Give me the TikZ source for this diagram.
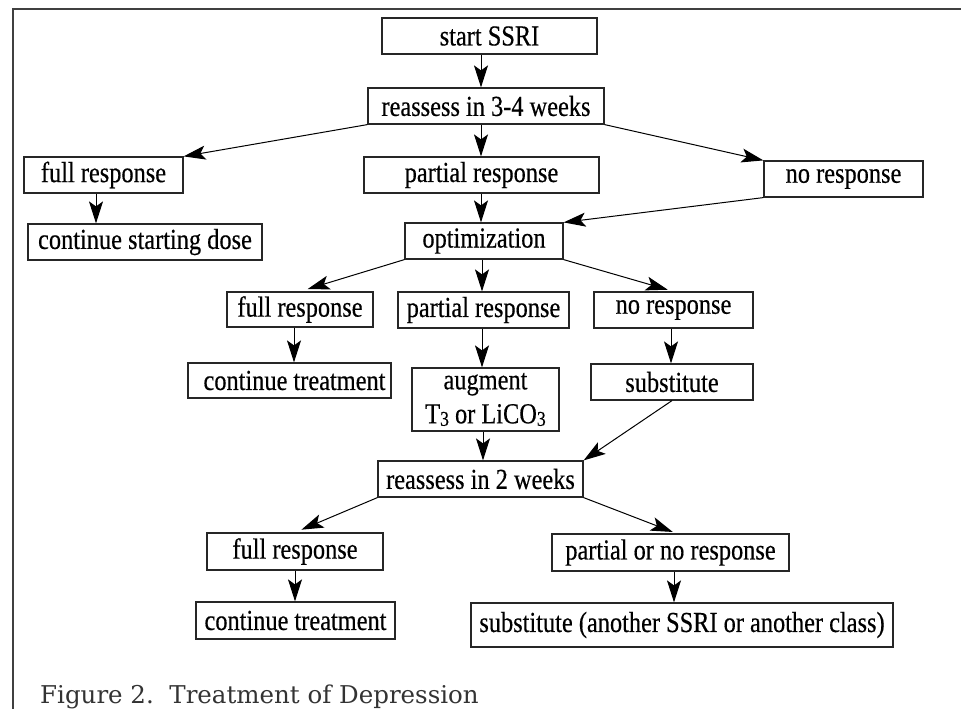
\documentclass[tikz,border=0pt]{standalone}
\usepackage{fontspec}
\setmainfont[FakeStretch=0.84,FakeBold=0.4]{Liberation Serif}
\newfontfamily\capfont{DejaVu Serif}
\usetikzlibrary{arrows.meta,calc}
\newcommand{\lowthree}{{\fontsize{21pt}{21pt}\selectfont\raisebox{-2.5pt}{3}}}
\begin{document}
\begin{tikzpicture}[x=1pt,y=-1pt,
  box/.style={draw=black!85, line width=1.2pt, inner sep=0pt,
    font=\fontsize{29pt}{31pt}\selectfont, text=black},
  arr/.style={-{Stealth[length=22pt,width=14pt,inset=5pt]}, line width=1pt, draw=black}]
\useasboundingbox (0,0) rectangle (961,709);
\fill[white] (0,0) rectangle (961,709);
\draw[line width=2.2pt, draw=black!75] (13,740) -- (13,9) -- (990,9);

% nodes
\node[box, minimum width=215pt, minimum height=36pt] (start) at (489.5,36) {start SSRI};
\node[box, minimum width=236pt, minimum height=36pt] (reassA) at (486,106) {reassess in 3-4 weeks};
\node[box, minimum width=159pt, minimum height=36pt] (fullA) at (103.5,175) {full response};
\node[box, minimum width=235pt, minimum height=36pt] (partA) at (481.5,175) {partial response};
\node[box, minimum width=159pt, minimum height=36pt] (noA) at (843.5,179) {no response};
\node[box, minimum width=234pt, minimum height=36pt] (contA) at (145,242) {continue starting dose};
\node[box, minimum width=158pt, minimum height=36pt] (optim) at (484,241) {optimization};
\node[box, minimum width=146pt, minimum height=35pt] (fullB) at (300,309.5) {full response};
\node[box, minimum width=171pt, minimum height=36pt] (partB) at (483.5,310) {partial response};
\node[box, minimum width=159pt, minimum height=36pt] (noB) at (673.5,310) {no response};
\node[box, minimum width=203pt, minimum height=35pt] (contB) at (289.5,380.5) {\hspace*{10pt}continue treatment};
\node[box, minimum width=147pt, minimum height=63pt, align=center,
  font=\fontsize{29pt}{34pt}\selectfont] (augment) at (485.5,399.5) {augment\\T\lowthree{} or LiCO\lowthree};
\node[box, minimum width=162pt, minimum height=36pt] (subst) at (672,382) {substitute};
\node[box, minimum width=205pt, minimum height=36pt] (reassB) at (480.5,479) {reassess in 2 weeks};
\node[box, minimum width=176pt, minimum height=37pt] (fullC) at (295,551.5) {full response};
\node[box, minimum width=237pt, minimum height=37pt] (partC) at (670.5,552.5) {partial or no response};
\node[box, minimum width=199pt, minimum height=37pt] (contC) at (295.5,620.5) {continue treatment};
\node[box, minimum width=422pt, minimum height=44pt] (substC) at (682,625) {substitute (another SSRI or another class)};

\node[anchor=base west, inner sep=0pt, text=black!80,
  font=\capfont\fontsize{24.5pt}{24.5pt}\selectfont] (cap) at (40,703) {Figure 2.\ \ Treatment of Depression};

% column coordinates
\coordinate (c481) at (481,0);
\coordinate (c482) at (482,0);
\coordinate (c483) at (483,0);
\coordinate (c96) at (96,0);
\coordinate (c294) at (294,0);
\coordinate (c671) at (671,0);
\coordinate (c295) at (295,0);
\coordinate (c674) at (674,0);

% connectors
\draw[arr] (start.south -| c481) -- (reassA.north -| c481);
\draw[arr] (reassA.south west) -- (fullA.north east);
\draw[arr] (reassA.south -| c481) -- (partA.north -| c481);
\draw[arr] (reassA.south east) -- (noA.north west);
\draw[arr] (fullA.south -| c96) -- (contA.north -| c96);
\draw[arr] (partA.south -| c481) -- (optim.north -| c481);
\draw[arr] (noA.south west) -- (optim.north east);
\draw[arr, shorten >=8pt] (optim.south west) -- (fullB.north);
\draw[arr] (optim.south -| c482) -- (partB.north -| c482);
\draw[arr, shorten >=6pt] (optim.south east) -- (noB.north);
\draw[arr] (fullB.south -| c294) -- (contB.north -| c294);
\draw[arr] (partB.south -| c482) -- (augment.north -| c482);
\draw[arr] (noB.south -| c671) -- (subst.north -| c671);
\draw[arr] (augment.south -| c483) -- (reassB.north -| c483);
\draw[arr] (subst.south) -- (reassB.north east);
\draw[arr, shorten >=7pt] (reassB.south west) -- (fullC.north);
\draw[arr, shorten >=4pt] (reassB.south east) -- ([xshift=6pt]partC.north);
\draw[arr] (fullC.south -| c295) -- (contC.north -| c295);
\draw[arr] (partC.south -| c674) -- (substC.north -| c674);
\end{tikzpicture}
\end{document}
